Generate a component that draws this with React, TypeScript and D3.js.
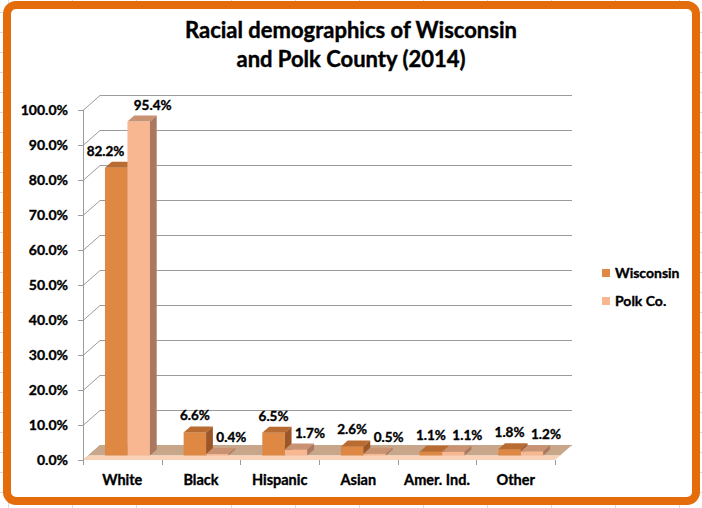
import React, { useEffect, useRef } from 'react';
import * as d3 from 'd3';

// chart data
const categories = ['White', 'Black', 'Hispanic', 'Asian', 'Amer. Ind.', 'Other'];
const seriesNames = ['Wisconsin', 'Polk Co.'];
const wisconsin = [82.2, 6.6, 6.5, 2.6, 1.1, 1.8];
const polkCo = [95.4, 0.4, 1.7, 0.5, 1.1, 1.2];
const yTicks = [0, 10, 20, 30, 40, 50, 60, 70, 80, 90, 100];
const titleLines = ['Racial demographics of Wisconsin', 'and Polk County (2014)'];

const W = 702;
const H = 508;
const FONT = 'Lato, "Open Sans", sans-serif';

// face colours: front, top, side
const palette = [
  { front: '#DE8843', top: '#B96C31', side: '#9C5628', legend: '#DE8843' },
  { front: '#F9B791', top: '#C99272', side: '#A9785F', legend: '#F9B791' },
];

// heavy bold text, like the shadowed excel labels
function boldText(sel: any, size: number) {
  return sel
    .attr('font-family', FONT)
    .attr('font-weight', 'bold')
    .attr('font-size', size)
    .attr('fill', '#000')
    .attr('stroke', '#000')
    .attr('stroke-width', 0.35);
}

function App() {
  const ref = useRef<SVGSVGElement>(null);

  useEffect(() => {
    const svg = d3.select(ref.current);
    svg.selectAll('*').remove();

    // excel sheet grid behind the chart object
    const grid = svg.append('g').attr('stroke', '#D9D9D9').attr('stroke-width', 1);
    [8, 72, 136, 231, 295, 359, 423, 487, 551, 615, 679].forEach(gx => {
      grid.append('line').attr('x1', gx + 0.5).attr('x2', gx + 0.5).attr('y1', 0).attr('y2', H);
    });
    d3.range(12, H, 20).forEach(gy => {
      grid.append('line').attr('x1', 0).attr('x2', W).attr('y1', gy + 0.5).attr('y2', gy + 0.5);
    });

    // chart area with orange border
    svg.append('rect')
      .attr('x', 7).attr('y', 5)
      .attr('width', 689).attr('height', 496)
      .attr('rx', 9)
      .attr('fill', '#fff')
      .attr('stroke', '#E46C0A')
      .attr('stroke-width', 8);

    // title
    boldText(svg.append('text'), 22)
      .attr('x', 351).attr('y', 38)
      .attr('text-anchor', 'middle')
      .attr('stroke-width', 0.4)
      .selectAll('tspan')
      .data(titleLines)
      .enter()
      .append('tspan')
      .attr('x', 351)
      .attr('dy', (d, i) => (i === 0 ? 0 : 29))
      .text(d => d);

    // plot geometry: front plane + oblique depth
    const x0 = 83, x1 = 555;
    const depth = { x: 17, y: -15 };
    const front = 0.3, back = 0.7;

    const x = d3.scaleBand().domain(categories).range([x0, x1]).paddingInner(0).paddingOuter(0);
    const groupW = x.bandwidth() * 2 / 3.5; // gap width 150%
    const xs = d3.scaleBand().domain(seriesNames).range([0, groupW]);
    const y = d3.scaleLinear().domain([0, 100]).range([460, 110]);

    // back wall gridlines + connectors
    const gl = svg.append('g').attr('stroke', '#9B9B9B').attr('stroke-width', 1).attr('fill', 'none');
    yTicks.forEach(t => {
      const yy = Math.round(y(t)) + 0.5;
      gl.append('line')
        .attr('x1', x0).attr('y1', yy)
        .attr('x2', x0 + depth.x).attr('y2', yy + depth.y);
      gl.append('line')
        .attr('x1', x0 + depth.x).attr('y1', yy + depth.y)
        .attr('x2', x1 + depth.x).attr('y2', yy + depth.y);
    });

    // floor
    const fy = y(0);
    svg.append('polygon')
      .attr('points', [
        [x0 + depth.x * front, fy + depth.y * front],
        [x1 + depth.x * front, fy + depth.y * front],
        [x1 + depth.x, fy + depth.y],
        [x0 + depth.x, fy + depth.y],
      ].map(p => p.join(',')).join(' '))
      .attr('fill', '#C7A68A');
    svg.append('polygon')
      .attr('points', [
        [x0, fy],
        [x1, fy],
        [x1 + depth.x * front, fy + depth.y * front],
        [x0 + depth.x * front, fy + depth.y * front],
      ].map(p => p.join(',')).join(' '))
      .attr('fill', '#F7D2B6');

    // y axis
    const ax = svg.append('g').attr('stroke', '#9B9B9B').attr('stroke-width', 1);
    ax.append('line').attr('x1', x0 + 0.5).attr('x2', x0 + 0.5).attr('y1', y(100)).attr('y2', y(0));
    yTicks.forEach(t => {
      const yy = Math.round(y(t)) + 0.5;
      ax.append('line').attr('x1', x0 - 5).attr('x2', x0).attr('y1', yy).attr('y2', yy);
    });
    boldText(svg.append('g'), 14)
      .attr('text-anchor', 'end')
      .selectAll('text')
      .data(yTicks)
      .enter()
      .append('text')
      .attr('x', 68)
      .attr('y', d => y(d) + 5)
      .text(d => d3.format('.1f')(d) + '%');

    // x axis ticks + labels
    const ticksX = categories.map(c => x(c) || 0).concat([x1]);
    ticksX.forEach(tx => {
      ax.append('line')
        .attr('x1', Math.round(tx) + 0.5).attr('x2', Math.round(tx) + 0.5)
        .attr('y1', fy).attr('y2', fy + 5);
    });
    boldText(svg.append('g'), 14.5)
      .attr('text-anchor', 'middle')
      .selectAll('text')
      .data(categories)
      .enter()
      .append('text')
      .attr('x', d => (x(d) || 0) + x.bandwidth() / 2)
      .attr('y', 485)
      .text(d => d);

    // bars
    const series = [wisconsin, polkCo];
    const dxB = depth.x * (back - front);
    const dyB = depth.y * (back - front);
    const by0 = fy + depth.y * front;
    const w = xs.bandwidth();
    const barX = (i: number, j: number) =>
      (x(categories[i]) || 0) + (x.bandwidth() - groupW) / 2 + (xs(seriesNames[j]) || 0) + depth.x * front;

    const bars = svg.append('g');
    const labels = boldText(svg.append('g'), 13.5).attr('text-anchor', 'middle');

    categories.forEach((c, i) => {
      series.forEach((vals, j) => {
        const v = vals[i];
        const bx = barX(i, j);
        const by1 = y(v) + depth.y * front;
        const col = palette[j];
        const pts = (arr: number[][]) => arr.map(p => p.join(',')).join(' ');
        bars.append('rect')
          .attr('x', bx).attr('y', by1)
          .attr('width', w).attr('height', Math.max(0, by0 - by1))
          .attr('fill', col.front);
        bars.append('polygon')
          .attr('points', pts([[bx, by1], [bx + w, by1], [bx + w + dxB, by1 + dyB], [bx + dxB, by1 + dyB]]))
          .attr('fill', col.top);
        bars.append('polygon')
          .attr('points', pts([[bx + w, by1], [bx + w + dxB, by1 + dyB], [bx + w + dxB, by0 + dyB], [bx + w, by0]]))
          .attr('fill', col.side);

        const ly = by1 + dyB - 11;
        const label = labels.append('text')
          .attr('y', ly + 5)
          .text(d3.format('.1f')(v) + '%');
        let cx = bx + w / 2 + (j === 1 ? 14 : 0);
        if (j === 0) {
          // keep clear of the taller neighbour bar
          const otherTop = y(series[1][i]) + depth.y * front + dyB;
          if (otherTop < ly + 6) {
            const lw = (label.node() as SVGTextElement).getComputedTextLength();
            cx = Math.min(cx, barX(i, 1) - 3 - lw / 2);
          }
        }
        label.attr('x', cx);
      });
    });

    // legend
    const lg = svg.append('g');
    seriesNames.forEach((s, j) => {
      const ly = 273 + j * 28;
      lg.append('rect')
        .attr('x', 602).attr('y', ly - 4)
        .attr('width', 8).attr('height', 8)
        .attr('fill', palette[j].legend);
      boldText(lg.append('text'), 14)
        .attr('x', 615).attr('y', ly + 5)
        .text(s);
    });
  }, []);

  return (
    <svg
      ref={ref}
      width={W}
      height={H}
      style={{ position: 'absolute', left: 0, top: 0, display: 'block' }}
    />
  );
}

export default App;
